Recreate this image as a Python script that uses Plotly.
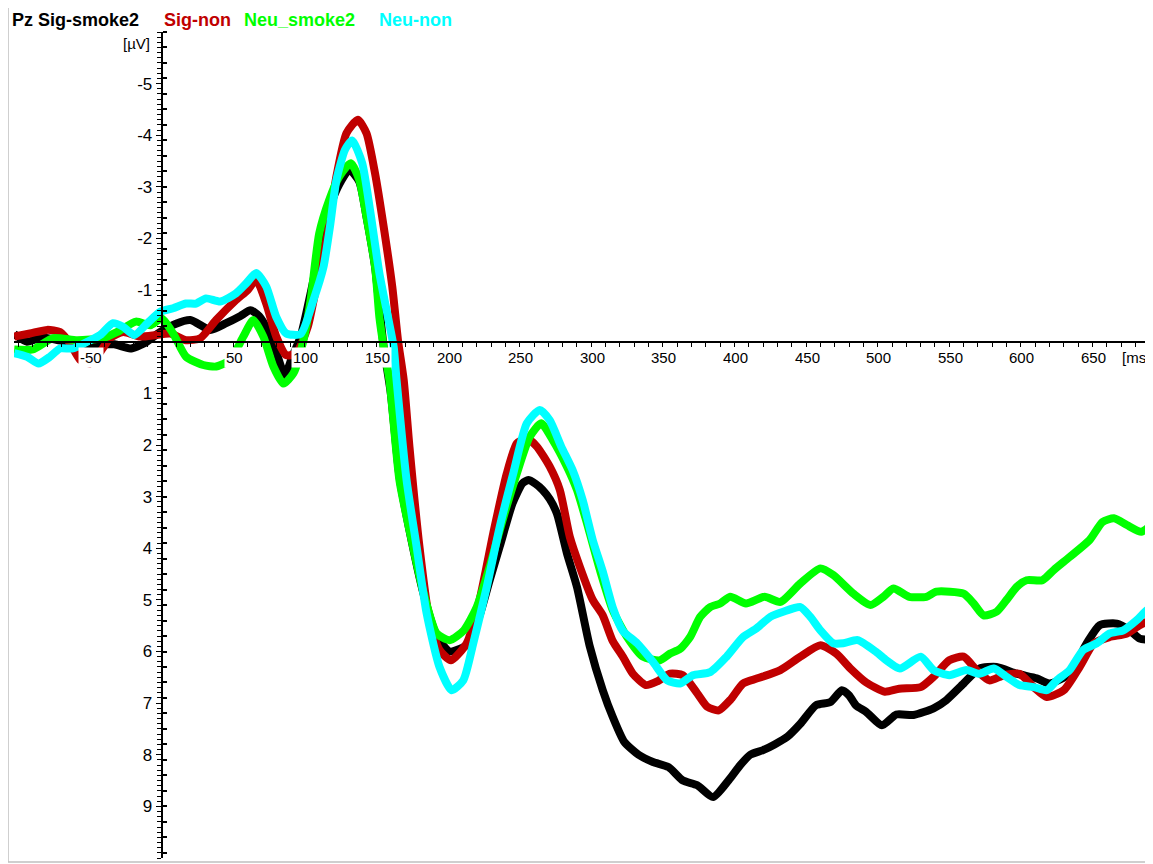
import plotly.graph_objects as go

# ---------------- data (ms, microvolts) ----------------
t_sig_smoke2 = [-103, -94, -84, -72, -60, -45, -33, -22, -12, -1, 10, 20, 34, 45, 55, 62, 68, 75, 80, 86,
                91, 97, 106, 112, 118, 124, 131, 138, 143, 149, 155, 160, 166, 173, 183, 192, 201, 208, 214,
                222, 229, 236, 245, 252, 256, 261, 266, 271, 276, 283, 290, 299, 308, 315, 323, 333, 343,
                354, 364, 374, 385, 396, 404, 411, 420, 428, 437, 446, 457, 467, 475, 480, 485, 492, 503,
                513, 525, 539, 548, 560, 571, 583, 597, 611, 620, 634, 646, 655, 667, 676, 683, 691]
v_sig_smoke2 = [-0.15, 0.0, -0.08, -0.03, 0.03, 0.05, 0.05, 0.13, 0.03, -0.19, -0.35, -0.42, -0.23, -0.36,
                -0.5, -0.61, -0.5, -0.19, 0.2, 0.65, 0.3, -0.1, -1.2, -2.0, -2.65, -3.05, -3.33, -3.1,
                -2.42, -1.45, 0.1, 1.0, 2.6, 3.65, 4.9, 5.7, 6.0, 5.95, 5.85, 5.3, 4.62, 3.97, 3.13, 2.74,
                2.68, 2.75, 2.87, 3.05, 3.33, 4.1, 4.75, 5.91, 6.75, 7.27, 7.75, 8.0, 8.14, 8.24, 8.5,
                8.59, 8.82, 8.49, 8.2, 8.0, 7.91, 7.8, 7.65, 7.4, 7.04, 6.98, 6.75, 6.85, 7.05, 7.17,
                7.43, 7.22, 7.23, 7.1, 6.94, 6.62, 6.33, 6.3, 6.43, 6.52, 6.62, 6.43, 5.84, 5.49, 5.46,
                5.59, 5.75, 5.77]

t_sig_non = [-103, -92, -80, -71, -64, -57, -50, -43, -36, -27, -15, -4, 6, 17, 27, 38, 52, 60, 66, 73,
             80, 87, 94, 102, 108, 115, 122, 129, 137, 143, 149, 155, 161, 165, 169, 173, 180, 187, 194,
             202, 213, 222, 232, 241, 248, 255, 262, 271, 278, 285, 292, 301, 308, 315, 322, 329, 338,
             346, 355, 364, 374, 381, 389, 397, 406, 416, 432, 446, 460, 471, 481, 492, 505, 515, 530,
             539, 550, 560, 569, 578, 588, 599, 609, 618, 630, 641, 651, 662, 674, 683, 691]
v_sig_non = [-0.1, -0.16, -0.23, -0.19, 0.03, 0.35, 0.42, 0.2, -0.07, -0.19, -0.1, -0.13, -0.16, -0.03,
             -0.07, -0.42, -0.81, -1.0, -1.2, -0.74, -0.1, 0.26, 0.22, -0.29, -1.07, -1.97, -3.2, -4.04,
             -4.3, -4.04, -3.26, -2.23, -1.07, -0.03, 0.74, 2.03, 3.97, 5.39, 5.97, 6.17, 5.84, 5.0,
             3.65, 2.55, 1.97, 1.87, 2.03, 2.42, 2.87, 3.78, 4.36, 5.0, 5.3, 5.8, 6.1, 6.43, 6.65, 6.58,
             6.43, 6.46, 6.81, 7.07, 7.14, 6.94, 6.62, 6.52, 6.36, 6.1, 5.88, 6.04, 6.33, 6.6, 6.78,
             6.72, 6.69, 6.49, 6.17, 6.1, 6.36, 6.56, 6.46, 6.43, 6.69, 6.88, 6.75, 6.3, 5.84, 5.72,
             5.65, 5.49, 5.39]

t_neu_smoke2 = [-103, -90, -76, -59, -41, -31, -18, -8, 0, 8, 17, 29, 38, 48, 57, 64, 71, 78, 85, 92, 99,
                104, 110, 117, 124, 132, 138, 143, 149, 152, 155, 159, 166, 173, 183, 192, 201, 211, 220,
                229, 238, 248, 257, 265, 273, 283, 290, 297, 306, 315, 325, 336, 348, 355, 362, 369, 376,
                383, 390, 397, 408, 421, 432, 446, 460, 469, 483, 495, 504, 511, 522, 534, 541, 560, 567,
                574, 583, 590, 597, 604, 615, 623, 634, 648, 657, 665, 674, 684, 691]
v_neu_smoke2 = [0.15, 0.15, -0.07, -0.03, -0.07, -0.19, -0.39, -0.32, -0.45, -0.16, 0.29, 0.45, 0.48,
                0.35, -0.1, -0.42, -0.1, 0.48, 0.81, 0.61, -0.03, -0.81, -2.1, -2.75, -3.2, -3.46, -3.13,
                -2.42, -1.45, -0.48, 0.1, 0.74, 2.68, 3.65, 4.88, 5.65, 5.78, 5.59, 5.14, 4.36, 3.46, 2.55,
                1.84, 1.58, 1.9, 2.42, 2.87, 3.52, 4.42, 5.2, 5.72, 6.1, 6.17, 6.04, 5.95, 5.72, 5.33,
                5.14, 5.07, 4.94, 5.07, 4.94, 5.04, 4.68, 4.39, 4.52, 4.88, 5.1, 4.94, 4.78, 4.94, 4.94,
                4.84, 4.88, 5.07, 5.3, 5.23, 5.0, 4.75, 4.62, 4.62, 4.42, 4.17, 3.84, 3.49, 3.42, 3.55,
                3.68, 3.55]

t_neu_non = [-103, -94, -86, -78, -71, -62, -52, -43, -34, -27, -19, -10, -1, 8, 17, 24, 31, 41, 52, 59,
             66, 73, 80, 87, 97, 106, 113, 117.5, 122, 128, 133, 140, 145.5, 152, 158, 162, 164, 171, 178,
             185, 194, 202.5, 210.6, 217.6, 227, 236, 245.5, 255, 264, 271, 279, 287, 294, 301, 308, 315,
             322, 332, 343, 353, 362, 371, 383, 394.5, 406, 415.5, 425, 434, 446, 453, 460, 469, 476,
             486, 499, 506, 515.5, 530, 539, 550, 562, 571, 581, 590, 599, 609, 618, 625, 634, 643.5,
             653, 662, 671.5, 681, 688, 691]
v_neu_non = [0.22, 0.29, 0.42, 0.29, 0.13, 0.13, 0.0, -0.13, -0.36, -0.29, -0.13, -0.36, -0.58, -0.65,
             -0.74, -0.74, -0.84, -0.78, -0.94, -1.13, -1.33, -1.07, -0.48, -0.16, -0.15, -0.81, -1.45,
             -2.23, -3.13, -3.72, -3.9, -3.46, -2.55, -1.33, -0.48, 0.1, 0.74, 2.68, 3.97, 5.26, 6.3,
             6.75, 6.56, 5.84, 4.75, 3.59, 2.55, 1.58, 1.32, 1.52, 2.03, 2.49, 3.07, 3.84, 4.45, 5.15,
             5.6, 5.84, 6.2, 6.56, 6.62, 6.46, 6.4, 6.1, 5.72, 5.55, 5.33, 5.23, 5.14, 5.33, 5.59, 5.84,
             5.84, 5.78, 6.01, 6.17, 6.33, 6.1, 6.36, 6.46, 6.36, 6.43, 6.33, 6.49, 6.65, 6.69, 6.75,
             6.56, 6.36, 5.97, 5.84, 5.65, 5.59, 5.39, 5.2, 5.17]

series_names = ["Sig-smoke2", "Sig-non", "Neu_smoke2", "Neu-non"]
series_colors = ["#000000", "#c00000", "#00ff00", "#00ffff"]
x_tick_labels = [-50, 50, 100, 150, 200, 250, 300, 350, 400, 450, 500, 550, 600, 650]
y_tick_labels = [-5, -4, -3, -2, -1, 1, 2, 3, 4, 5, 6, 7, 8, 9]

X_RANGE = [-103.14, 690.15]
Y_RANGE = [10, -6]

fig = go.Figure()
for t, v, name, col in zip([t_sig_smoke2, t_sig_non, t_neu_smoke2, t_neu_non],
                           [v_sig_smoke2, v_sig_non, v_neu_smoke2, v_neu_non],
                           series_names, series_colors):
    fig.add_trace(go.Scatter(x=t, y=v, mode="lines", name=name,
                             line=dict(color=col, width=8, shape="spline", smoothing=0.6),
                             showlegend=False, hoverinfo="skip"))

ypos = (0 - X_RANGE[0]) / (X_RANGE[1] - X_RANGE[0])
xpos = (Y_RANGE[0] - 0) / (Y_RANGE[0] - Y_RANGE[1])

FONT = "Liberation Sans, Arial, sans-serif"

# page body has an 8px margin, so the figure is drawn 8px in from the window's corner
fig.update_layout(
    width=1145, height=856,
    margin=dict(l=6, r=3, t=24, b=6),
    paper_bgcolor="white", plot_bgcolor="white",
    font=dict(family=FONT, color="black"),
    xaxis=dict(range=X_RANGE, anchor="free", position=xpos, showline=True, linecolor="black",
               linewidth=2, ticks="outside", tickmode="linear", tick0=0, dtick=10, ticklen=4,
               tickwidth=1, tickcolor="black", showticklabels=False, showgrid=False,
               zeroline=False, automargin=False),
    yaxis=dict(range=Y_RANGE, anchor="free", position=ypos, side="left", showline=True,
               linecolor="black", linewidth=2, ticks="outside", ticklen=5, tickwidth=1,
               tickcolor="black", tickmode="array", tickvals=y_tick_labels,
               ticktext=[str(v) for v in y_tick_labels], tickfont=dict(size=17, family=FONT),
               minor=dict(ticks="outside", tickmode="linear", tick0=0, dtick=0.1, ticklen=4,
                          tickwidth=1, tickcolor="black", showgrid=False),
               showgrid=False, zeroline=False, automargin=False),
    yaxis2=dict(range=Y_RANGE, overlaying="y", anchor="free", position=ypos, side="right",
                showline=False, ticks="outside", tickmode="linear", tick0=0, dtick=0.3,
                ticklen=4, tickwidth=2, tickcolor="black", showticklabels=False,
                showgrid=False, zeroline=False, automargin=False),
)

fig.add_trace(go.Scatter(x=[], y=[], yaxis="y2", showlegend=False))

ann = []
for v in x_tick_labels:
    ann.append(dict(x=v, y=0, xref="x", yref="y", text=str(v), showarrow=False,
                    yshift=-16, xshift=1, bgcolor="white", borderpad=1,
                    font=dict(size=15, family=FONT, color="black")))
ann.append(dict(x=1.0, y=0, xref="paper", yref="y", text="[ms]", showarrow=False, xanchor="right",
                yshift=-16, xshift=1, bgcolor="white", borderpad=0,
                font=dict(size=15, family=FONT, color="black")))
ann.append(dict(x=(152 - 14) / 1136, y=(858 - 43) / 826, xref="paper", yref="paper", text="[µV]",
                showarrow=False, xanchor="right", yanchor="middle",
                font=dict(size=15, family=FONT, color="black")))

title_parts = [("Pz Sig-smoke2", "#000000", 11), ("Sig-non", "#c00000", 162.7),
               ("Neu_smoke2", "#00ff00", 243.3), ("Neu-non", "#00ffff", 378.3)]
for txt, col, px in title_parts:
    ann.append(dict(x=(px - 14) / 1136, y=(858 - 19.5) / 826, xref="paper", yref="paper",
                    text="<b>" + txt + "</b>", showarrow=False, xanchor="left", yanchor="middle",
                    borderpad=0, font=dict(size=18, family=FONT, color=col)))
fig.update_layout(annotations=ann)

fig.add_shape(type="rect", xref="paper", yref="paper", x0=(8 - 14) / 1136, x1=(1150.5 - 14) / 1136,
              y0=(858 - 862) / 826, y1=(858 + 6) / 826, line=dict(color="#c0c0c0", width=1.5),
              fillcolor="rgba(0,0,0,0)", layer="below")

fig.write_html("out.html")
